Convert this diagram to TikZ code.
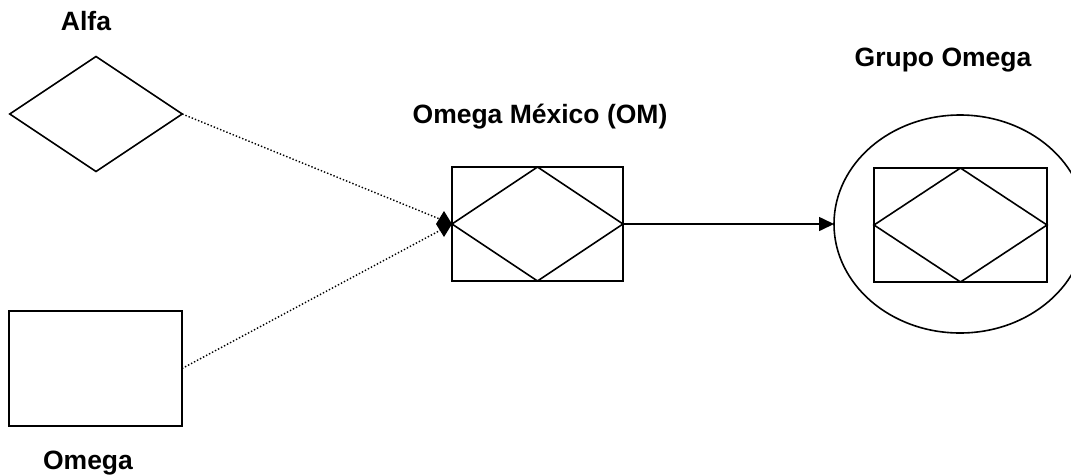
\documentclass[tikz,border=0pt]{standalone}
\usepackage{fontspec}
\setmainfont{Liberation Sans}
\usetikzlibrary{shapes.geometric,arrows.meta}
\begin{document}
\begin{tikzpicture}[x=1pt,y=-1pt,
  every node/.style={inner sep=0pt,outer sep=0pt},
  lw/.style={line width=1.6pt},
  rhomb/.style={draw,lw,diamond,aspect=1.5,minimum width=#1*1.5,minimum height=#1},
  box/.style={draw,lw,rectangle,minimum width=173,minimum height=115},
  caption/.style={font=\fontsize{26.5}{30}\selectfont\bfseries},
  dotline/.style={line width=1.4pt,dash pattern=on 1.4pt off 2pt},
  joint/.style={fill=black,diamond,minimum width=16,minimum height=26,aspect=0.6},
  flow/.style={line width=1.6pt,-{Triangle[length=15pt,width=14pt]}}]
\useasboundingbox (0,0) rectangle (1071,475);

% Alfa
\node[rhomb=115] (alfa) at (96,114) {};
\node[caption] (alfaL) at (86,21) {Alfa};

% Omega
\node[box] (omega) at (95.5,368.5) {};
\node[caption] (omegaL) at (88,463) {Omega};

% Omega México
\node[box,minimum width=171,minimum height=114] (om) at (537.5,224) {};
\node[draw,lw,diamond,aspect=1.5,minimum width=171,minimum height=114] (omd) at (om.center) {};
\node[caption] (omL) at (540,117) {Omega México (OM)};

% Grupo Omega
\node[draw,lw,ellipse,minimum width=252,minimum height=218] (grupo) at (960,224) {};
\node[box,minimum width=173,minimum height=114] (gbox) at (960.5,225) {};
\node[draw,lw,diamond,aspect=1.5,minimum width=173,minimum height=114] (gd) at (gbox.center) {};
\node[caption] (grupoL) at (943,60) {Grupo Omega};

% connectors
\draw[dotline] (alfa.east) -- (om.west);
\draw[dotline] (omega.east) -- (om.west);
\node[joint,anchor=east] (join) at (om.west) {};
\draw[flow] (om.east) -- (grupo.west);
\end{tikzpicture}
\end{document}
